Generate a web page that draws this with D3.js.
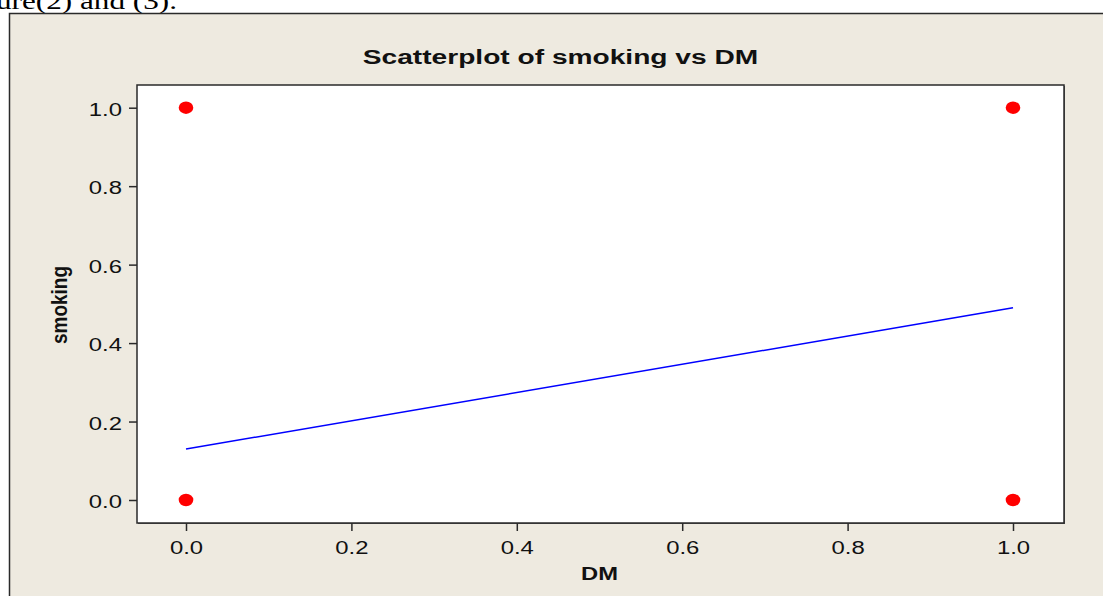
<!DOCTYPE html>
<html>
<head>
<meta charset="utf-8">
<script src="https://cdn.jsdelivr.net/npm/d3@7"></script>
<style>
  html, body { margin: 0; padding: 0; background: #ffffff; overflow: hidden; }
  svg { display: block; }
</style>
</head>
<body>
<svg id="chart" width="1103" height="596"></svg>
<script>
// ---- data ----
const title = "Scatterplot of smoking vs DM";
const xLabel = "DM";
const yLabel = "smoking";
const DM = [0, 0, 1, 1];
const smoking = [0, 1, 0, 1];
const fitX = [0, 1];
const fitY = [0.13, 0.49];
const xTicks = [0.0, 0.2, 0.4, 0.6, 0.8, 1.0];
const yTicks = [0.0, 0.2, 0.4, 0.6, 0.8, 1.0];
const captionText = "ure(2) and (3).";

// ---- layout ----
const W = 1103, H = 596;
const plot = { left: 137, top: 85, right: 1064, bottom: 523 };
const SX = 1.29; // horizontal stretch of the original image
const SANS = "'Liberation Sans', Arial, sans-serif";

const svg = d3.select("#chart");

// cropped document text above the figure
svg.append("text")
  .attr("transform", "translate(-4,9) scale(1.3,1)")
  .attr("font-family", "'Liberation Serif', 'Times New Roman', serif")
  .attr("font-size", 24)
  .attr("fill", "#000")
  .text(captionText);

// outer frame (beige)
svg.append("rect")
  .attr("x", 9.5).attr("y", 13.5)
  .attr("width", W + 10).attr("height", H + 10)
  .attr("fill", "#eeeae0")
  .attr("stroke", "#2a2a2a").attr("stroke-width", 1.5);

const x = d3.scaleLinear().domain([0, 1]).range([186, 1013]);
const y = d3.scaleLinear().domain([0, 1]).range([500, 107.7]);

// plot area shadow + background
svg.append("rect")
  .attr("x", plot.left + 1).attr("y", plot.top + 1)
  .attr("width", plot.right - plot.left).attr("height", plot.bottom - plot.top)
  .attr("fill", "#555");
svg.append("rect")
  .attr("x", plot.left).attr("y", plot.top)
  .attr("width", plot.right - plot.left).attr("height", plot.bottom - plot.top)
  .attr("fill", "#ffffff")
  .attr("stroke", "#2a2a2a").attr("stroke-width", 1.5);

// axes
const tickFmt = d3.format(".1f");
const xAxis = svg.append("g")
  .attr("transform", `translate(0,${plot.bottom})`)
  .call(d3.axisBottom(x).tickValues(xTicks).tickFormat(tickFmt).tickSize(8).tickPadding(6).tickSizeOuter(0));
const yAxis = svg.append("g")
  .attr("transform", `translate(${plot.left},0)`)
  .call(d3.axisLeft(y).tickValues(yTicks).tickFormat(tickFmt).tickSize(8).tickPadding(7).tickSizeOuter(0));

[xAxis, yAxis].forEach(g => {
  g.select(".domain").remove();
  g.selectAll(".tick line").attr("stroke", "#2a2a2a").attr("stroke-width", 1.5);
  g.selectAll(".tick text")
    .attr("font-family", SANS)
    .attr("font-size", 18.5)
    .attr("fill", "#111")
    .attr("transform", `scale(${SX},1)`);
});
yAxis.selectAll(".tick text").attr("x", -15 / SX).attr("dy", "0.42em");
xAxis.selectAll(".tick text").attr("dy", "0.93em");

// fitted line
svg.append("line")
  .attr("x1", x(fitX[0])).attr("y1", y(fitY[0]))
  .attr("x2", x(fitX[1])).attr("y2", y(fitY[1]))
  .attr("stroke", "#0000ff").attr("stroke-width", 1.5);

// points
svg.append("g").selectAll("ellipse")
  .data(DM.map((d, i) => [d, smoking[i]]))
  .join("ellipse")
  .attr("cx", d => x(d[0]))
  .attr("cy", d => y(d[1]))
  .attr("rx", 7.3).attr("ry", 6.2)
  .attr("fill", "#ff0000");

// title
svg.append("text")
  .attr("transform", `translate(560.5,63.5) scale(1.34,1)`)
  .attr("text-anchor", "middle")
  .attr("font-family", SANS)
  .attr("font-weight", "bold")
  .attr("font-size", 21)
  .attr("fill", "#111")
  .text(title);

// axis labels
svg.append("text")
  .attr("transform", `translate(${(plot.left + plot.right) / 2 - 1},580) scale(1.25,1)`)
  .attr("text-anchor", "middle")
  .attr("font-family", SANS)
  .attr("font-weight", "bold")
  .attr("font-size", 19)
  .attr("fill", "#111")
  .text(xLabel);

svg.append("text")
  .attr("transform", `translate(67,${(plot.top + plot.bottom) / 2 + 1}) scale(1.2,1) rotate(-90)`)
  .attr("text-anchor", "middle")
  .attr("font-family", SANS)
  .attr("font-weight", "bold")
  .attr("font-size", 19)
  .attr("fill", "#111")
  .text(yLabel);
</script>
</body>
</html>
